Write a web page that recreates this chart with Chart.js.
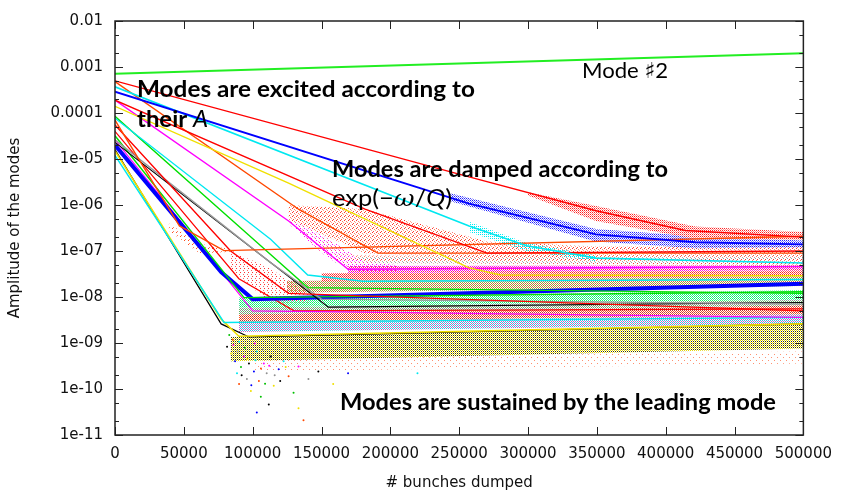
<!DOCTYPE html>
<html>
<head>
<meta charset="utf-8">
<script src="https://cdn.jsdelivr.net/npm/chart.js@4.4.1/dist/chart.umd.min.js"></script>
<style>
  html, body { margin: 0; padding: 0; background: #fff; }
  canvas { display: block; }
</style>
</head>
<body>
<canvas id="modesChart" width="842" height="492"></canvas>
<script>
// axes
const xTicks = [0, 50000, 100000, 150000, 200000, 250000, 300000, 350000, 400000, 450000, 500000];
const xTickLabels = ['0', '50000', '100000', '150000', '200000', '250000', '300000', '350000', '400000', '450000', '500000'];
const yTicks = [1e-11, 1e-10, 1e-9, 1e-8, 1e-7, 1e-6, 1e-5, 1e-4, 1e-3, 1e-2];
const yTickLabels = ['1e-11', '1e-10', '1e-09', '1e-08', '1e-07', '1e-06', '1e-05', '0.0001', '0.001', '0.01'];

// modes : [bunches dumped, amplitude]
const mode2 = [[0, 7.1e-4], [500000, 2.0e-3]];
const redTop = [[0, 5.0e-4], [257200, 4.1e-6], [349400, 7.5e-7], [414300, 2.8e-7], [500000, 2.0e-7]];
const blueTop = [[0, 2.9e-4], [257200, 1.07e-6], [349400, 2.3e-7], [421500, 1.55e-7], [500000, 1.4e-7]];
const cyanTop = [[0, 3.7e-4], [257200, 3.5e-7], [299000, 1.3e-7], [349400, 7e-8], [500000, 5.5e-8]];
const redSecond = [[0, 1.9e-4], [181600, 8.1e-7], [270200, 9e-8], [500000, 1.0e-7]];
const yellowTop = [[0, 1.4e-4], [126100, 3.0e-6], [257200, 4.3e-8], [280000, 3e-8], [500000, 2.9e-8]];
const magentaTop = [[0, 1.9e-4], [126100, 4.5e-7], [169300, 4e-8], [500000, 4.6e-8]];
const orangeTop = [[0, 4.8e-4], [133300, 8.1e-7], [190900, 9e-8], [500000, 9e-8]];
const orangeFlat = [[0, 7e-5], [46800, 3.5e-7], [79200, 1.02e-7], [500000, 2.1e-7]];
const cyanMid = [[0, 7.7e-5], [113000, 1.8e-7], [140000, 3e-8], [180000, 2.2e-8], [500000, 2.4e-8]];
const greenMid = [[0, 8.5e-5], [108100, 1.13e-7], [140000, 1.6e-8], [500000, 1.2e-8]];
const redMid = [[0, 5.5e-5], [84000, 1.0e-7], [126000, 1.2e-8], [500000, 5e-9]];
const grayMid = [[0, 2.6e-5], [113000, 5.6e-8], [150000, 9e-9], [500000, 7e-9]];
const blackMid = [[0, 2.3e-5], [155000, 6e-9], [500000, 7.6e-9]];
const greenLow = [[0, 3.2e-5], [93700, 9.7e-9], [500000, 1.3e-8]];
const blueLow = [[0, 2e-5], [77100, 3.5e-8], [100000, 9e-9], [190900, 1.07e-8], [500000, 1.94e-8]];
const magentaLow = [[0, 2.6e-5], [100000, 5e-9], [500000, 3.6e-9]];
const redLow = [[0, 4.0e-5], [90000, 2.5e-8], [130000, 5e-9], [500000, 5.5e-9]];
const cyanLow = [[0, 1.2e-5], [79200, 2.8e-9], [500000, 3.6e-9]];
const yellowLow = [[0, 1.5e-5], [77100, 3.3e-9], [90000, 1.4e-9], [500000, 2.6e-9]];
const blackLow = [[0, 1.6e-5], [77100, 2.6e-9], [97300, 1.35e-9], [500000, 2.6e-9]];

// spread of the modes once they reach the floor : x, lower, upper
const redTopX = [300000, 349400, 421500, 500000];
const redTopLo = [1.6e-6, 4.5e-7, 1.85e-7, 1.75e-7];
const redTopHi = [1.9e-6, 9.5e-7, 3.4e-7, 2.6e-7];
const blueTopX = [243500, 349400, 421500, 500000];
const blueTopLo = [1.2e-6, 1.6e-7, 1.15e-7, 1.2e-7];
const blueTopHi = [1.8e-6, 3.0e-7, 2.1e-7, 1.7e-7];
const cyanTopX = [257200, 299000, 349400];
const cyanTopLo = [2.6e-7, 1.0e-7, 6e-8];
const cyanTopHi = [4.3e-7, 1.5e-7, 8e-8];
const redWedgeX = [126100, 181600, 270200, 349400, 500000];
const redWedgeLo = [4.9e-7, 8.9e-8, 6.9e-8, 7.6e-8, 7.6e-8];
const redWedgeHi = [1.0e-6, 8.1e-7, 1.6e-7, 1.25e-7, 1.25e-7];
const magentaWedgeX = [126100, 155000, 180000, 205300];
const magentaWedgeLo = [3.9e-7, 6.9e-8, 3.3e-8, 3.3e-8];
const magentaWedgeHi = [5.2e-7, 1.85e-7, 6.0e-8, 4.9e-8];
const orangeFunnelX = [39000, 61200, 86500];
const orangeFunnelLo = [2.8e-7, 8.9e-8, 9.6e-8];
const orangeFunnelHi = [4.0e-7, 1.44e-7, 1.07e-7];
const redScatterX = [84000, 111700, 140500];
const redScatterLo = [4.3e-8, 7.6e-9, 7.6e-9];
const redScatterHi = [1.0e-7, 4.3e-8, 1.2e-8];

const floorSalmonX = [160000, 500000];
const floorSalmonLo = [5.5e-8, 5e-8];
const floorSalmonHi = [8e-8, 7.6e-8];
const floorMagentaX = [169300, 500000];
const floorMagentaLo = [3.3e-8, 3.8e-8];
const floorMagentaHi = [4.7e-8, 4.9e-8];
const floorRedX = [150000, 500000];
const floorRedLo = [2.24e-8, 2.9e-8];
const floorRedHi = [3.3e-8, 3.8e-8];
const floorOliveX = [125000, 500000];
const floorOliveLo = [1.23e-8, 1.74e-8];
const floorOliveHi = [2.24e-8, 2.9e-8];
const floorGreenX = [90000, 500000];
const floorGreenLo = [5.9e-9, 8.7e-9];
const floorGreenHi = [9.7e-9, 1.4e-8];
const floorGrayLo = [4.2e-9, 6.6e-9];
const floorGrayHi = [5.9e-9, 8.7e-9];
const floorDarkRedLo = [2.8e-9, 4.2e-9];
const floorDarkRedHi = [4.2e-9, 6.6e-9];
const floorCyanLo = [1.74e-9, 2.6e-9];
const floorCyanHi = [2.8e-9, 4.2e-9];
const floorYellowX = [84000, 500000];
const floorYellowLo = [4.0e-10, 7.6e-10];
const floorYellowHi = [1.35e-9, 2.6e-9];
const floorDustX = [100000, 500000];
const floorDustLo = [2.4e-10, 3.6e-10];
const floorDustHi = [4.6e-10, 6.5e-10];

// stray points under the trough
const troughDots = [
  [81400, 8.3e-10], [84300, 5.9e-10], [87200, 4.0e-10], [88600, 2.2e-10], [90100, 1.29e-10],
  [91500, 3.0e-10], [93700, 5.1e-10], [95800, 1.66e-10], [97300, 3.6e-10], [98700, 9.1e-11],
  [100900, 2.4e-10], [103000, 6.5e-10], [104500, 1.5e-10], [105900, 6.8e-11], [108100, 3.6e-10],
  [110200, 2.2e-10], [113100, 5.1e-10], [115300, 1.17e-10], [118900, 2.7e-10], [122500, 4.0e-10],
  [126100, 1.9e-10], [129700, 8.3e-11], [133300, 3.1e-10], [140500, 1.66e-10], [147700, 2.4e-10],
  [158500, 1.29e-10], [169300, 2.2e-10], [90100, 1.07e-9], [85700, 1.17e-9], [94400, 7.9e-10],
  [101600, 9.7e-10], [107300, 7.2e-10], [111700, 4.6e-11], [133300, 3.8e-11], [103000, 3.1e-11],
  [219700, 2.2e-10], [136900, 2.1e-11], [83000, 1.5e-9], [86000, 9e-10], [89000, 6.5e-10],
  [92000, 2.0e-10], [96000, 4.5e-10], [99000, 1.2e-10], [102000, 4.2e-10], [106000, 2.8e-10],
  [109000, 1.3e-10], [112000, 3.2e-10], [116000, 2.0e-10], [120000, 1.5e-10], [124000, 3.0e-10]
];
const dotColors = ['#000000', '#f0e000', '#0000ff', '#00e8f0', '#ff4800', '#00c000', '#ff00ff', '#909090'];

const yMinor = [2, 5];
const clear = 'rgba(0,0,0,0)';

function dots(colors, size) {
  const layouts = { 2: [[0, 0], [1, 1]], 4: [[0, 0], [2, 1], [1, 3], [3, 2]], 6: [[0, 0], [3, 3]] };
  const t = document.createElement('canvas');
  t.width = t.height = size;
  const g = t.getContext('2d');
  layouts[size].forEach(([px, py], i) => {
    g.fillStyle = colors[i % colors.length];
    g.fillRect(px, py, 1, 1);
  });
  return g.createPattern(t, 'repeat');
}

const toPts = arr => arr.map(([x, y]) => ({ x, y }));

function line(data, color, width) {
  return { data: toPts(data), borderColor: color, borderWidth: width || 1.3, pointRadius: 0, fill: false };
}

function band(xs, lo, hi, style) {
  return [
    { data: xs.map((x, i) => ({ x, y: lo[i] })), borderWidth: 0, borderColor: clear, pointRadius: 0, fill: false },
    { data: xs.map((x, i) => ({ x, y: hi[i] })), borderWidth: 0, borderColor: clear, pointRadius: 0, fill: '-1', backgroundColor: style }
  ];
}

const datasets = [
  line(mode2, '#22ee22', 2),
  line(redTop, '#ff0000', 1.4),
  line(blueTop, '#0000ff', 1.8),
  line(cyanTop, '#00e8f0', 1.6),
  line(redSecond, '#ff0000', 1.4),
  line(yellowTop, '#f0e000', 1.4),
  line(magentaTop, '#ff00ff', 1.4),
  line(orangeTop, '#ff4800', 1.4),
  line(orangeFlat, '#ff4800', 1.4),
  line(cyanMid, '#00e8f0', 1.4),
  line(greenMid, '#00e000', 1.4),
  line(redMid, '#ff0000', 1.4),
  line(grayMid, '#999999', 1.4),
  line(blackMid, '#000000', 1.2),
  line(greenLow, '#00e000', 1.4),
  line(blueLow, '#0000ff', 4),
  line(magentaLow, '#ff00ff', 1.2),
  line(redLow, '#ff0000', 1.2),
  line(cyanLow, '#00e8f0', 1.4),
  line(yellowLow, '#f0e000', 1.6),
  line(blackLow, '#000000', 1.2),
  {
    data: toPts(troughDots), showLine: false, pointRadius: 1, pointBorderWidth: 0,
    pointBackgroundColor: troughDots.map((p, i) => dotColors[i % dotColors.length])
  },
  ...band(redTopX, redTopLo, redTopHi, dots(['#ff2020', '#ff9090'], 2)),
  ...band(blueTopX, blueTopLo, blueTopHi, dots(['#2020ff', '#8080ff'], 2)),
  ...band(cyanTopX, cyanTopLo, cyanTopHi, dots(['#00e8f0', clear], 2)),
  ...band(redWedgeX, redWedgeLo, redWedgeHi, dots(['#ff3030', '#ff8060', '#ff5030', '#ffa090'], 4)),
  ...band(magentaWedgeX, magentaWedgeLo, magentaWedgeHi, dots(['#ff00ff', '#ff80ff', clear, '#ff4090'], 4)),
  ...band(orangeFunnelX, orangeFunnelLo, orangeFunnelHi, dots(['#ff5020', clear, '#ff8060', clear], 4)),
  ...band(redScatterX, redScatterLo, redScatterHi, dots(['#ff3030', clear, clear, '#ff6060'], 4)),
  ...band(floorSalmonX, floorSalmonLo, floorSalmonHi, dots(['#ff8060', '#c0a0a0', '#ff3030', '#a0a0a0'], 4)),
  ...band(floorMagentaX, floorMagentaLo, floorMagentaHi, dots(['#ff00ff', '#ff2060'], 2)),
  ...band(floorRedX, floorRedLo, floorRedHi, dots(['#ff2020', '#ff5050'], 2)),
  ...band(floorOliveX, floorOliveLo, floorOliveHi, dots(['#90b030', '#d06040'], 2)),
  ...band(floorGreenX, floorGreenLo, floorGreenHi, dots(['#00ff60', '#40e0a0'], 2)),
  ...band(floorGreenX, floorGrayLo, floorGrayHi, dots(['#909090', '#60b060'], 2)),
  ...band(floorGreenX, floorDarkRedLo, floorDarkRedHi, dots(['#c03030', '#ff5020', '#303030', '#ff3030'], 2)),
  ...band(floorGreenX, floorCyanLo, floorCyanHi, dots(['#30c0e0', '#c060c0'], 2)),
  ...band(floorYellowX, floorYellowLo, floorYellowHi, dots(['#e8d800', '#404000'], 2)),
  ...band(floorDustX, floorDustLo, floorDustHi, dots(['#ff9070'], 6))
];

// text written on the plot : x, baseline, width, runs
const notes = [
  { x: 137, y: 97, w: 338, runs: [['Modes are excited according to', 'bold 23px Lato']] },
  { x: 137, y: 127, w: 71, runs: [['their ', 'bold 23px Lato'], ['A', 'italic 23px Lato']] },
  { x: 332, y: 177, w: 336, runs: [['Modes are damped according to', 'bold 23px Lato']] },
  { x: 332, y: 206, w: 120, runs: [['exp(\u2212', '23px Lato'], ['\u03c9', 'italic 23px "DejaVu Serif"'], ['/', '23px Lato'], ['Q', 'italic 23px Lato'], [')', '23px Lato']] },
  { x: 582, y: 78, w: 86, runs: [['Mode ', '22px Lato'], ['\u266f', '22px "DejaVu Sans"'], ['2', '22px Lato']] },
  { x: 340, y: 410, w: 436, runs: [['Modes are sustained by the leading mode', 'bold 23px Lato']] }
];

const framePlugin = {
  id: 'frame',
  afterDraw(chart) {
    const { ctx, chartArea: a, scales: { x, y } } = chart;
    ctx.save();
    ctx.strokeStyle = '#222';
    ctx.lineWidth = 1;
    ctx.beginPath();
    xTicks.forEach(v => {
      const p = Math.round(x.getPixelForValue(v)) + 0.5;
      ctx.moveTo(p, a.bottom); ctx.lineTo(p, a.bottom - 8);
      ctx.moveTo(p, a.top); ctx.lineTo(p, a.top + 8);
    });
    yTicks.forEach(v => {
      const p = Math.round(y.getPixelForValue(v)) + 0.5;
      ctx.moveTo(a.left, p); ctx.lineTo(a.left + 8, p);
      ctx.moveTo(a.right, p); ctx.lineTo(a.right - 8, p);
      if (v < 0.01) {
        yMinor.forEach(m => {
          const q = Math.round(y.getPixelForValue(v * m)) + 0.5;
          ctx.moveTo(a.left, q); ctx.lineTo(a.left + 4, q);
          ctx.moveTo(a.right, q); ctx.lineTo(a.right - 4, q);
        });
      }
    });
    ctx.stroke();
    ctx.lineWidth = 1.5;
    ctx.strokeRect(a.left, a.top, a.right - a.left, a.bottom - a.top);

    ctx.fillStyle = '#000';
    ctx.textBaseline = 'alphabetic';
    notes.forEach(n => {
      let total = 0;
      n.runs.forEach(([t, f]) => { ctx.font = f; total += ctx.measureText(t).width; });
      ctx.save();
      ctx.translate(n.x, n.y);
      ctx.scale(n.w / total, 1);
      let cx = 0;
      n.runs.forEach(([t, f]) => {
        ctx.font = f;
        ctx.fillText(t, cx, 0);
        cx += ctx.measureText(t).width;
      });
      ctx.restore();
    });
    ctx.restore();
  }
};

const tickFont = { family: 'DejaVu Sans', size: 15 };

new Chart(document.getElementById('modesChart'), {
  type: 'line',
  data: { datasets },
  options: {
    responsive: false,
    animation: false,
    devicePixelRatio: 1,
    layout: { padding: { top: 13, right: 33, left: 0, bottom: 0 } },
    elements: { line: { tension: 0 } },
    plugins: { legend: { display: false }, tooltip: { enabled: false } },
    scales: {
      x: {
        type: 'linear', min: 0, max: 500000,
        grid: { display: false, drawTicks: false },
        border: { display: false },
        afterBuildTicks: s => { s.ticks = xTicks.map(v => ({ value: v })); },
        afterFit: s => { s.height = 57; },
        ticks: { callback: (v, i) => xTickLabels[i], font: tickFont, color: '#111', padding: 10, maxRotation: 0, autoSkip: false },
        title: { display: true, text: '# bunches dumped', font: tickFont, color: '#111', padding: { top: 0, bottom: 0 } }
      },
      y: {
        type: 'logarithmic', min: 1e-11, max: 0.01,
        grid: { display: false, drawTicks: false },
        border: { display: false },
        afterBuildTicks: s => { s.ticks = yTicks.map(v => ({ value: v })); },
        afterFit: s => { s.width = 115; },
        ticks: { callback: (v, i) => yTickLabels[i], font: tickFont, color: '#111', padding: 12, autoSkip: false },
        title: { display: true, text: 'Amplitude of the modes', font: tickFont, color: '#111', padding: { top: 6, bottom: 0 } }
      }
    }
  },
  plugins: [framePlugin]
});
</script>
</body>
</html>
